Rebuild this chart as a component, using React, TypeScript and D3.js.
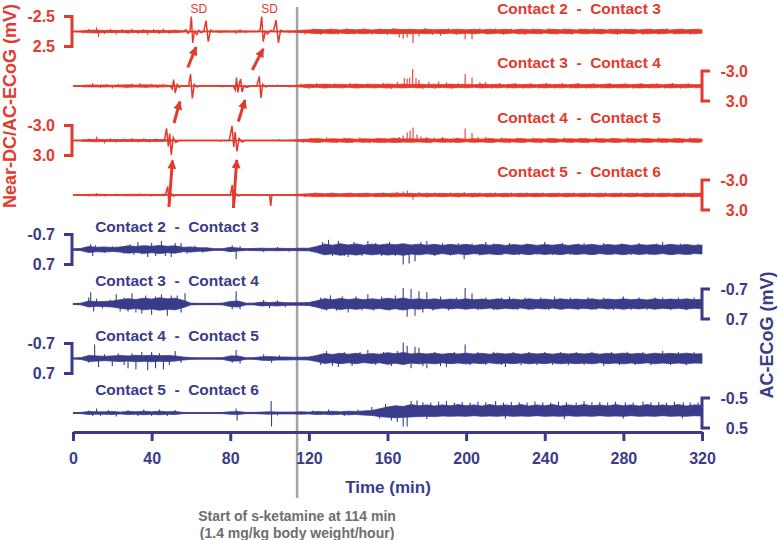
import { useEffect, useRef } from "react";
import * as d3 from "d3";

const RED = "#e23b2e";
const BLUE = "#3a3c8a";
const GREY_LINE = "#a3a3a3";
const GREY_TEXT = "#6e6e6e";
const FONT = "'Liberation Sans', Arial, Helvetica, sans-serif";

const W = 778;
const H = 540;

// time axis (min)
const xTicks = [0, 40, 80, 120, 160, 200, 240, 280, 320];
const ketamineStart = 114;
const sdLabelTimes = [64, 100];

// envelope values are read every 4 min, 0..320
const binMin = 4;

const contactLabels = [
  "Contact 2  -  Contact 3",
  "Contact 3  -  Contact 4",
  "Contact 4  -  Contact 5",
  "Contact 5  -  Contact 6",
];

// calibration bars (mV)
const redBars = [2.5, 3.0, 3.0, 3.0];
const blueBars = [0.7, 0.7, 0.7, 0.5];

// near-DC/AC-ECoG background envelope (mV)
const red1Env = [
  0.05, 0.1, 0.2, 0.25, 0.15, 0.2, 0.15, 0.2, 0.15, 0.2,
  0.15, 0.2, 0.15, 0.2, 0.1, 0.08, 0.08, 0.08, 0.1, 0.12,
  0.1, 0.12, 0.1, 0.08, 0.08, 0.08, 0.08, 0.1, 0.12, 0.2,
  0.26, 0.36, 0.28, 0.38, 0.26, 0.36, 0.28, 0.38, 0.26, 0.36,
  0.32, 0.4, 0.32, 0.38, 0.28, 0.38, 0.28, 0.36, 0.28, 0.38,
  0.28, 0.36, 0.26, 0.38, 0.28, 0.36, 0.26, 0.38, 0.28, 0.36,
  0.26, 0.38, 0.28, 0.36, 0.26, 0.38, 0.28, 0.36, 0.26, 0.38,
  0.28, 0.36, 0.26, 0.38, 0.28, 0.36, 0.26, 0.38, 0.28, 0.36,
  0.28,
];
const red2Env = [
  0.05, 0.1, 0.2, 0.18, 0.2, 0.15, 0.2, 0.25, 0.2, 0.25,
  0.22, 0.2, 0.15, 0.1, 0.08, 0.06, 0.06, 0.06, 0.06, 0.08,
  0.08, 0.1, 0.06, 0.06, 0.08, 0.08, 0.08, 0.1, 0.12, 0.2,
  0.36, 0.26, 0.38, 0.28, 0.36, 0.26, 0.38, 0.28, 0.36, 0.28,
  0.4, 0.32, 0.38, 0.28, 0.38, 0.28, 0.36, 0.28, 0.38, 0.28,
  0.36, 0.26, 0.38, 0.28, 0.36, 0.26, 0.38, 0.28, 0.36, 0.26,
  0.38, 0.28, 0.36, 0.26, 0.38, 0.28, 0.36, 0.26, 0.38, 0.28,
  0.36, 0.26, 0.38, 0.28, 0.36, 0.26, 0.38, 0.28, 0.36, 0.26,
  0.3,
];
const red3Env = [
  0.05, 0.1, 0.2, 0.25, 0.18, 0.2, 0.2, 0.18, 0.22, 0.18,
  0.18, 0.2, 0.14, 0.08, 0.06, 0.06, 0.06, 0.06, 0.06, 0.08,
  0.08, 0.08, 0.06, 0.06, 0.06, 0.08, 0.08, 0.1, 0.12, 0.2,
  0.28, 0.38, 0.26, 0.36, 0.28, 0.38, 0.26, 0.36, 0.28, 0.38,
  0.32, 0.4, 0.32, 0.36, 0.28, 0.38, 0.26, 0.36, 0.28, 0.38,
  0.26, 0.36, 0.28, 0.38, 0.26, 0.36, 0.28, 0.38, 0.26, 0.36,
  0.28, 0.38, 0.26, 0.36, 0.28, 0.38, 0.26, 0.36, 0.28, 0.38,
  0.26, 0.36, 0.28, 0.38, 0.26, 0.36, 0.28, 0.38, 0.26, 0.36,
  0.3,
];
const red4Env = [
  0.03, 0.06, 0.12, 0.15, 0.12, 0.1, 0.12, 0.12, 0.15, 0.12,
  0.12, 0.12, 0.1, 0.06, 0.05, 0.04, 0.04, 0.05, 0.05, 0.05,
  0.05, 0.05, 0.05, 0.05, 0.05, 0.06, 0.08, 0.1, 0.12, 0.18,
  0.24, 0.34, 0.26, 0.34, 0.24, 0.34, 0.26, 0.34, 0.24, 0.34,
  0.28, 0.36, 0.26, 0.34, 0.24, 0.34, 0.26, 0.34, 0.24, 0.34,
  0.26, 0.34, 0.24, 0.34, 0.26, 0.34, 0.24, 0.34, 0.26, 0.34,
  0.24, 0.34, 0.26, 0.34, 0.24, 0.34, 0.26, 0.34, 0.24, 0.34,
  0.26, 0.34, 0.24, 0.34, 0.26, 0.34, 0.24, 0.34, 0.26, 0.34,
  0.28,
];

// spreading depolarizations: [min, mV] (negative = up)
const red1Sd = [
  [56, 0], [57.5, -0.3], [58.5, 0.3], [59.5, 0], [60.2, -2.5], [60.9, 1.9], [61.8, 0],
  [63, 0.5], [64, -0.2], [65, 0.2], [66.5, 0], [67.7, -1.8], [68.8, 1.7], [70, -0.2], [71, 0],
  [94, 0], [95.2, -0.3], [96, -2.5], [96.8, 1.7], [97.8, 0], [99, 0.4], [100.5, -0.2], [102, 0],
  [103.3, -1.9], [104.5, 1.9], [105.6, -0.2], [107, 0],
];
const red2Sd = [
  [49.5, 0], [50.5, 0.6], [51.2, -1.3], [52, 1.4], [53, -0.3], [54, 0.3], [55, 0],
  [58.8, 0], [59.8, -2.4], [60.7, 2.5], [61.7, -0.3], [63, 0.2], [64.5, 0],
  [81.5, 0], [82.6, 0.8], [83.2, -1.7], [83.9, 1.3], [84.6, -0.5], [85.3, -1.4], [86, 1.2], [87, 0],
  [88.5, 0.3], [90, 0], [93.5, 0], [94.8, -1.9], [95.6, 2.4], [96.5, -0.3], [98, 0.2], [99.5, 0],
];
const red3Sd = [
  [46.5, 0], [47.6, -2.4], [48.5, 1.2], [49.2, -1.4], [50, 2.9], [51, -0.6], [52.3, 0.4], [54, 0],
  [79.5, 0], [80.9, -2.9], [81.8, 1.3], [82.5, -1.7], [83.4, 2.2], [84.5, -0.4], [86, 0.3], [87.5, 0],
];
const red4Sd = [
  [47, 0], [48.2, -1.7], [48.9, 2.4], [49.8, -0.4], [51, 0.2], [52.5, 0],
  [80, 0], [81, -2.0], [81.7, 2.6], [82.6, -0.4], [84, 0.2], [85.5, 0],
  [100, 0], [100.6, 2.2], [101.2, 0],
];

// spikes on top of the background: [min, mV]
const red1Spikes = [
  [5, 0.3], [8, -0.4], [12, -0.7], [13, 0.9], [16, 0.4], [19, -0.4], [22, 0.5], [25, -0.4],
  [28, 0.4], [30, -0.5], [33, 0.4], [36, -0.4], [38, 0.6], [41, -0.4], [44, 0.4], [46, -0.5],
  [49, 0.4], [52, -0.3], [75, 0.3], [83, 0.4], [85, -0.4], [88, 0.3], [110, 0.3],
  [118, 0.5], [122, -0.5], [126, 0.55], [131, -0.5], [135, 0.5], [139, -0.55], [143, 0.5],
  [148, -0.5], [152, 0.55], [156, -0.5], [160, 0.6], [163, -0.6], [166, 1.0], [168, 1.2],
  [170, 1.0], [173, 1.9], [176, 0.8], [179, -0.6], [183, 0.6], [187, 0.7], [191, -0.55],
  [195, 0.55], [199.5, 1.3], [203, 1.3], [207, -0.55], [211, 0.55], [215, -0.5], [219, 0.55],
  [223, -0.5], [227, 0.5], [230, 0.6], [234, -0.5], [238, 0.5], [242, -0.55], [246, 0.5],
  [250, -0.5], [254, 0.55], [258, -0.5], [262, 0.5], [265, -0.6], [269, 0.5], [273, -0.5],
  [277, 0.55], [281, -0.5], [285, 0.5], [290, 0.6], [294, -0.5], [298, 0.5], [302, -0.55],
  [306, 0.5], [310, -0.5], [314, 0.55], [318, -0.5],
];
const red2Spikes = [
  [6, 0.3], [10, -0.6], [14, 0.4], [17, -0.4], [20, 0.5], [23, -0.4], [27, 0.45], [30, -0.5],
  [34, -0.6], [37, 0.4], [40, -0.45], [43, 0.4], [46, -0.4], [76, 0.3], [104, -0.3], [110, 0.3],
  [116, -0.5], [120, 0.55], [124, -0.6], [128, 0.5], [133, -0.55], [137, 0.5], [141, -0.6],
  [145, 0.5], [150, -0.55], [154, 0.5], [158, -0.6], [162, 0.55], [165, -0.8], [168.5, -1.6],
  [170, -1.5], [171.3, -1.7], [172.8, -3.4], [174.5, -1.6], [176, -1.2], [178, 0.6],
  [181, -0.8], [184, 0.55], [186, -0.9], [190, -0.7], [193, 0.55], [196, -0.6], [199.5, -2.4],
  [203, -1.7], [207, -0.7], [210, -0.8], [213, 0.55], [217, -0.6], [221, 0.5], [225, -0.6],
  [229, 0.55], [233, -0.55], [237, 0.5], [241, -0.6], [245, 0.5], [249, -0.55], [253, 0.5],
  [257, -0.6], [261, 0.55], [265, -0.55], [269, 0.5], [273, -0.6], [277, 0.5], [281, -0.55],
  [285, 0.55], [289, -0.6], [293, 0.5], [297, -0.55], [301, 0.5], [305, -0.6], [309, 0.55],
  [313, -0.55], [317, 0.5],
];
const red3Spikes = [
  [5, 0.3], [8, -0.4], [12, -0.8], [16, 0.6], [19, -0.4], [22, 0.45], [26, -0.4], [30, -0.5],
  [33, 0.4], [36, -0.45], [39, 0.4], [42, -0.4], [75, 0.3], [105, -0.3],
  [117, 0.5], [121, -0.55], [125, 0.5], [129, -0.6], [134, 0.5], [138, -0.55], [142, 0.5],
  [146, -0.6], [151, 0.55], [155, -0.55], [159, 0.5], [163, -0.6], [166, -0.7], [168, -1.0],
  [170, -1.6], [171.5, -2.0], [173, -2.6], [175, -1.2], [177, -0.8], [180, -0.7], [182, 0.55],
  [184, -0.6], [188, -0.7], [192, 0.5], [195, -0.55], [199.5, -2.4], [203, -1.5], [206, -0.7],
  [210, -0.7], [214, 0.5], [218, -0.6], [222, 0.55], [226, -0.55], [230, 0.5], [234, -0.6],
  [238, 0.55], [242, -0.55], [246, 0.5], [250, -0.6], [254, 0.5], [258, -0.55], [262, 0.55],
  [266, -0.6], [270, 0.5], [274, -0.55], [278, 0.5], [282, -0.6], [286, 0.55], [290, -0.55],
  [294, 0.5], [298, -0.6], [302, 0.5], [306, -0.55], [310, 0.55], [314, -0.6], [318, 0.5],
];
const red4Spikes = [
  [8, 0.3], [12, -0.4], [16, 0.3], [22, -0.3], [28, 0.3], [34, -0.3], [40, 0.3], [46, -0.3],
  [118, 0.45], [123, -0.5], [127, 0.45], [132, -0.5], [136, 0.45], [141, -0.5], [145, 0.45],
  [150, -0.5], [154, 0.45], [158, -0.5], [162, 0.5], [165, -0.6], [168, -0.7], [170, -0.9],
  [173, 0.9], [176, -0.6], [180, 0.5], [184, -0.5], [188, 0.45], [192, -0.5], [196, 0.45],
  [199, -0.6], [203, 0.5], [207, -0.5], [211, 0.45], [215, -0.5], [219, 0.45], [223, -0.5],
  [227, 0.45], [231, -0.5], [235, 0.45], [239, -0.5], [243, 0.45], [247, -0.5], [251, 0.45],
  [255, -0.5], [259, 0.45], [263, -0.5], [267, 0.45], [271, -0.5], [275, 0.45], [279, -0.5],
  [283, 0.45], [287, -0.5], [291, 0.45], [295, -0.5], [299, 0.45], [303, -0.5], [307, 0.45],
  [311, -0.5], [315, 0.45], [319, -0.5],
];

// AC-ECoG background envelope (mV)
const blue1Env = [
  0.03, 0.05, 0.14, 0.1, 0.12, 0.09, 0.12, 0.17, 0.14, 0.18,
  0.15, 0.19, 0.15, 0.17, 0.1, 0.12, 0.08, 0.08, 0.04, 0.04,
  0.1, 0.07, 0.04, 0.05, 0.06, 0.05, 0.06, 0.05, 0.05, 0.06,
  0.06, 0.14, 0.25, 0.2, 0.27, 0.21, 0.26, 0.2, 0.25, 0.21,
  0.26, 0.22, 0.27, 0.21, 0.25, 0.2, 0.24, 0.19, 0.24, 0.2,
  0.24, 0.19, 0.23, 0.2, 0.24, 0.19, 0.23, 0.2, 0.24, 0.19,
  0.23, 0.2, 0.24, 0.19, 0.23, 0.2, 0.24, 0.19, 0.23, 0.2,
  0.24, 0.19, 0.23, 0.2, 0.23, 0.19, 0.24, 0.2, 0.23, 0.19,
  0.21,
];
const blue2Env = [
  0.02, 0.04, 0.14, 0.11, 0.12, 0.14, 0.2, 0.25, 0.21, 0.27,
  0.23, 0.29, 0.24, 0.27, 0.17, 0.04, 0.03, 0.03, 0.03, 0.04,
  0.12, 0.14, 0.04, 0.04, 0.09, 0.07, 0.09, 0.06, 0.06, 0.06,
  0.07, 0.15, 0.25, 0.2, 0.26, 0.21, 0.25, 0.2, 0.24, 0.21,
  0.27, 0.22, 0.28, 0.21, 0.24, 0.2, 0.24, 0.19, 0.23, 0.2,
  0.24, 0.2, 0.23, 0.19, 0.24, 0.2, 0.23, 0.19, 0.24, 0.2,
  0.23, 0.19, 0.24, 0.2, 0.23, 0.2, 0.24, 0.19, 0.23, 0.2,
  0.24, 0.2, 0.23, 0.19, 0.24, 0.2, 0.23, 0.2, 0.24, 0.2,
  0.21,
];
const blue3Env = [
  0.02, 0.04, 0.14, 0.12, 0.1, 0.12, 0.14, 0.12, 0.15, 0.13,
  0.15, 0.13, 0.14, 0.12, 0.07, 0.04, 0.03, 0.03, 0.03, 0.04,
  0.12, 0.12, 0.03, 0.04, 0.08, 0.09, 0.07, 0.07, 0.06, 0.06,
  0.07, 0.14, 0.23, 0.19, 0.24, 0.2, 0.24, 0.19, 0.23, 0.2,
  0.27, 0.22, 0.28, 0.21, 0.25, 0.21, 0.25, 0.2, 0.24, 0.21,
  0.25, 0.21, 0.24, 0.2, 0.25, 0.21, 0.24, 0.2, 0.25, 0.21,
  0.24, 0.2, 0.25, 0.21, 0.24, 0.21, 0.25, 0.2, 0.24, 0.21,
  0.25, 0.21, 0.24, 0.2, 0.25, 0.21, 0.24, 0.21, 0.25, 0.21,
  0.22,
];
// contact 5-6 is skewed upward after ~160 min
const blue4Up = [
  0.01, 0.02, 0.05, 0.04, 0.04, 0.05, 0.03, 0.05, 0.04, 0.06,
  0.04, 0.06, 0.04, 0.05, 0.02, 0.01, 0.01, 0.01, 0.01, 0.02,
  0.04, 0.05, 0.02, 0.02, 0.03, 0.04, 0.03, 0.03, 0.03, 0.04,
  0.03, 0.05, 0.04, 0.06, 0.04, 0.06, 0.05, 0.07, 0.08, 0.14,
  0.2, 0.24, 0.22, 0.28, 0.24, 0.27, 0.23, 0.27, 0.24, 0.28,
  0.24, 0.27, 0.23, 0.28, 0.24, 0.27, 0.24, 0.28, 0.23, 0.27,
  0.24, 0.28, 0.23, 0.27, 0.24, 0.28, 0.24, 0.27, 0.23, 0.28,
  0.24, 0.27, 0.23, 0.28, 0.24, 0.27, 0.24, 0.28, 0.23, 0.27,
  0.26,
];
const blue4Down = [
  0.01, 0.02, 0.05, 0.04, 0.04, 0.05, 0.03, 0.05, 0.04, 0.06,
  0.04, 0.06, 0.04, 0.05, 0.02, 0.01, 0.01, 0.01, 0.01, 0.02,
  0.04, 0.05, 0.02, 0.02, 0.03, 0.04, 0.03, 0.03, 0.03, 0.04,
  0.03, 0.05, 0.04, 0.06, 0.04, 0.06, 0.05, 0.07, 0.08, 0.12,
  0.14, 0.16, 0.14, 0.13, 0.12, 0.11, 0.12, 0.1, 0.11, 0.1,
  0.11, 0.09, 0.11, 0.1, 0.11, 0.09, 0.11, 0.1, 0.11, 0.09,
  0.11, 0.1, 0.11, 0.09, 0.11, 0.1, 0.11, 0.09, 0.11, 0.1,
  0.11, 0.09, 0.11, 0.1, 0.11, 0.09, 0.11, 0.1, 0.11, 0.09,
  0.1,
];

const blue1Spikes = [
  [6, -0.12], [9, -0.25], [10, 0.3], [11.5, -0.2], [16, 0.15], [20, -0.15], [26, 0.2],
  [29, -0.25], [31, 0.25], [33, -0.35], [35, 0.22], [38, 0.35], [40, -0.3], [42, 0.3],
  [45, -0.4], [47, 0.3], [50, 0.35], [52, -0.3], [55, -0.3], [58, 0.2], [62, -0.18],
  [66, 0.15], [81, -0.2], [83, 0.45], [85, -0.15], [97, 0.12], [104, -0.12], [110, 0.1],
  [127, -0.35], [130, -0.45], [132, 0.3], [135, -0.4], [138, 0.3], [140, 0.35], [143, -0.35],
  [147, 0.3], [150, -0.4], [154, -0.3], [157, 0.3], [161, -0.35], [164, 0.3], [168, 0.7],
  [171, 0.65], [174, 0.55], [177, -0.35], [180, -0.4], [184, 0.3], [188, -0.3], [192, 0.28],
  [196, -0.3], [199, 0.45], [203, -0.28], [207, 0.28], [210, -0.35], [214, -0.28], [218, 0.26],
  [222, -0.3], [227, 0.26], [231, -0.28], [236, 0.25], [240, -0.35], [244, 0.26], [249, -0.3],
  [253, 0.25], [257, -0.28], [260, -0.3], [265, 0.26], [270, -0.3], [274, 0.25], [279, -0.28],
  [284, 0.26], [288, -0.3], [293, 0.25], [297, -0.28], [300, -0.35], [305, 0.25], [309, -0.28],
  [314, 0.26], [318, -0.27],
];
const blue2Spikes = [
  [8, -0.3], [9, -0.55], [10.5, 0.35], [12, -0.25], [15, 0.2], [19, -0.2], [22, -0.45],
  [24, 0.35], [26, -0.3], [28, 0.35], [30, -0.5], [32, 0.4], [35, 0.45], [37, -0.4], [40, 0.5],
  [42, -0.35], [45, -0.45], [48, 0.55], [50, -0.4], [53, -0.4], [55, 0.4], [57, -0.5],
  [81, 0.25], [83, -0.6], [85, 0.25], [97, -0.2], [100, 0.2], [104, -0.18], [108, 0.15],
  [126, -0.3], [129, 0.3], [131, -0.4], [134, 0.32], [137, -0.35], [140, 0.4], [144, -0.35],
  [147, 0.3], [150, -0.45], [153, 0.3], [157, -0.35], [161, 0.3], [164, -0.4], [168, -0.75],
  [170, 0.6], [172, -0.7], [174, 0.55], [176, -0.6], [178, 0.4], [180, -0.55], [183, 0.3],
  [187, -0.35], [191, 0.3], [195, -0.3], [199.5, -0.75], [203, -0.5], [206, 0.28], [210, -0.3],
  [214, 0.28], [218, -0.3], [222, -0.35], [226, 0.28], [230, -0.3], [234, 0.27], [238, -0.3],
  [242, 0.28], [245, -0.35], [249, 0.27], [253, -0.3], [257, 0.28], [262, -0.32], [266, 0.27],
  [270, -0.3], [275, 0.28], [280, -0.35], [284, 0.27], [288, -0.3], [292, 0.28], [296, -0.3],
  [300, -0.3], [304, 0.27], [308, -0.3], [312, 0.28], [316, -0.3],
];
const blue3Spikes = [
  [8, 0.2], [11, -0.65], [13, 0.4], [16, -0.2], [20, 0.35], [23, -0.25], [26, 0.3], [28, 0.45],
  [30, -0.25], [32, 0.5], [35, -0.3], [38, 0.55], [40, -0.3], [42, 0.45], [44, -0.25],
  [46, 0.5], [49, 0.3], [52, -0.35], [55, 0.2], [81, 0.2], [83, -0.4], [85, 0.25], [97, -0.2],
  [101, 0.2], [105, -0.15], [126, 0.3], [129, -0.35], [132, 0.35], [135, 0.4], [138, -0.3],
  [142, 0.35], [146, -0.3], [150, -0.4], [154, 0.3], [158, -0.3], [162, 0.35], [165, -0.35],
  [168, -0.75], [170, -0.6], [172, 0.45], [174, -0.55], [176, -0.5], [178, 0.35], [180, 0.45],
  [184, -0.3], [187, 0.35], [190, 0.4], [194, -0.3], [199.5, -0.65], [202, 0.3], [206, -0.3],
  [210, 0.3], [214, -0.32], [218, 0.3], [220, 0.4], [224, -0.3], [228, 0.32], [232, -0.3],
  [236, 0.3], [240, -0.3], [244, 0.3], [248, -0.3], [252, 0.32], [256, -0.3], [260, 0.3],
  [264, -0.32], [270, 0.35], [274, -0.3], [278, 0.3], [282, -0.32], [286, 0.3], [290, -0.3],
  [294, 0.32], [300, -0.35], [304, 0.3], [308, -0.3], [312, 0.32], [316, -0.3],
];
const blue4Spikes = [
  [8, -0.08], [10, 0.1], [12, -0.15], [14, 0.1], [18, -0.1], [22, 0.12], [28, -0.1], [33, 0.1],
  [36, -0.12], [40, 0.1], [44, -0.12], [48, 0.1], [52, -0.1], [83, -0.15], [83.5, 0.25],
  [100.8, -0.4], [101, 0.45], [104, 0.08], [122, -0.08], [130, -0.12], [138, 0.1], [145, -0.12],
  [152, -0.2], [156, 0.18], [159, -0.3], [162, 0.25], [165, 0.3], [168, 0.45], [170, 0.45],
  [172, -0.4], [175, -0.42], [178, -0.36], [180, 0.2], [182, -0.35], [186, -0.38], [190, -0.4],
  [194, -0.35], [198, -0.37], [202, -0.35], [206, -0.38], [210, -0.36], [215, -0.4],
  [219, -0.35], [220, 0.18], [223, -0.37], [227, -0.36], [231, -0.35], [235, -0.38],
  [239, -0.36], [243, -0.35], [247, -0.38], [250, 0.2], [251, -0.36], [256, -0.35], [260, -0.4],
  [264, -0.36], [268, -0.37], [272, -0.35], [276, -0.38], [280, 0.18], [281, -0.36],
  [285, -0.35], [290, -0.38], [294, -0.36], [298, -0.37], [302, -0.35], [306, -0.38],
  [310, 0.18], [310.5, -0.36], [314, -0.35], [318, -0.36],
];

// SD propagation arrows: lower trace, tail [min, mV]; head [min, mV] on the trace above
const arrowFrom = [3, 2, 1, 3, 2, 1];
const arrowTail = [[48.8, 2.4], [51.4, -3.5], [58.4, -3.7], [81.6, 2.6], [84.1, -3.8], [91.2, -3.2]];
const arrowHead = [[50.6, 4.0], [54.4, 3.1], [62.6, 2.6], [83.3, 3.9], [87.5, 2.8], [96.8, 2.9]];

type Trace = {
  label: string;
  color: string;
  bar: number;
  up: number[];
  down: number[];
  events: number[][];
  spikes: number[][];
};

const traces: Trace[] = [
  { label: contactLabels[0], color: RED, bar: redBars[0], up: red1Env, down: red1Env, events: red1Sd, spikes: red1Spikes },
  { label: contactLabels[1], color: RED, bar: redBars[1], up: red2Env, down: red2Env, events: red2Sd, spikes: red2Spikes },
  { label: contactLabels[2], color: RED, bar: redBars[2], up: red3Env, down: red3Env, events: red3Sd, spikes: red3Spikes },
  { label: contactLabels[3], color: RED, bar: redBars[3], up: red4Env, down: red4Env, events: red4Sd, spikes: red4Spikes },
  { label: contactLabels[0], color: BLUE, bar: blueBars[0], up: blue1Env, down: blue1Env, events: [], spikes: blue1Spikes },
  { label: contactLabels[1], color: BLUE, bar: blueBars[1], up: blue2Env, down: blue2Env, events: [], spikes: blue2Spikes },
  { label: contactLabels[2], color: BLUE, bar: blueBars[2], up: blue3Env, down: blue3Env, events: [], spikes: blue3Spikes },
  { label: contactLabels[3], color: BLUE, bar: blueBars[3], up: blue4Up, down: blue4Down, events: [], spikes: blue4Spikes },
];

// layout
const left = 73;
const right = 702;
const firstBase = 31.5;
const rowStep = 54.5;
const barHalf = 15;
const axisY = 432;

const x = d3.scaleLinear().domain([0, 320]).range([left, right]);
const yScales = traces.map((tr, i) => {
  const base = firstBase + i * rowStep;
  return d3.scaleLinear().domain([-tr.bar, tr.bar]).range([base - barHalf, base + barHalf]);
});

const fmt = d3.format(".1f");

export default function App() {
  const axisRef = useRef<SVGGElement>(null);

  useEffect(() => {
    const g = d3.select(axisRef.current);
    g.selectAll("*").remove();
    g.call(d3.axisBottom(x).tickValues(xTicks).tickSize(9).tickSizeOuter(0).tickPadding(12));
    g.attr("font-family", null).attr("font-size", null);
    g.select(".domain").attr("stroke", BLUE).attr("stroke-width", 3);
    g.selectAll(".tick line").attr("stroke", BLUE).attr("stroke-width", 3);
    g.selectAll(".tick text")
      .attr("fill", BLUE)
      .style("font-family", FONT)
      .style("font-size", "16px")
      .style("font-weight", "bold");
  }, []);

  return (
    <div style={{ position: "absolute", left: 0, top: 0 }}>
      <svg width={W} height={H} style={{ display: "block", background: "#fff" }}>
        <defs>
          <marker id="arrowHead" viewBox="0 0 10 10" refX="9" refY="5" markerWidth="10" markerHeight="9"
            markerUnits="userSpaceOnUse" orient="auto">
            <path d="M0,0 L10,5 L0,10 z" fill={RED} />
          </marker>
        </defs>

        {/* ketamine start */}
        <line x1={x(ketamineStart)} x2={x(ketamineStart)} y1={7} y2={498} stroke={GREY_LINE} strokeWidth={2.5} />

        {traces.map((tr, i) => {
          const y = yScales[i];
          const base = y(0);
          const area = d3
            .area<number>()
            .x((_, k) => x(k * binMin))
            .y0((_, k) => y(-tr.up[k]))
            .y1((_, k) => y(tr.down[k]));
          const line = d3
            .line<number[]>()
            .x((d) => x(d[0]))
            .y((d) => y(d[1]));
          const pts = [[0, 0], ...tr.events, [320, 0]];
          const onLeft = i % 2 === 0;
          const top = y(-tr.bar);
          const bot = y(tr.bar);
          const bx = onLeft ? left - 1 : right;
          const tick = onLeft ? -8 : 8;
          return (
            <g key={i}>
              <path d={area(tr.up) || ""} fill={tr.color} stroke={tr.color} strokeWidth={0.8} />
              <path d={line(pts) || ""} fill="none" stroke={tr.color} strokeWidth={1.5} />
              {tr.spikes.map((s, k) => (
                <line key={k} x1={x(s[0])} x2={x(s[0])} y1={base} y2={y(s[1])} stroke={tr.color} strokeWidth={1.1} />
              ))}
              <path
                d={`M${bx + tick},${top}H${bx}V${bot}H${bx + tick}`}
                fill="none"
                stroke={tr.color}
                strokeWidth={3}
              />
              <g fill={tr.color} fontFamily={FONT} fontWeight="bold" fontSize={16} textAnchor="end">
                <text x={onLeft ? 55 : 748} y={top} dy="0.36em">{"-" + fmt(tr.bar)}</text>
                <text x={onLeft ? 55 : 748} y={bot} dy="0.36em">{fmt(tr.bar)}</text>
              </g>
              <text
                x={tr.color === RED ? 579 : 177}
                y={base - 18}
                textAnchor="middle"
                fill={tr.color}
                fontFamily={FONT}
                fontWeight="bold"
                fontSize={15.5}
                style={{ whiteSpace: "pre" }}
              >
                {tr.label}
              </text>
            </g>
          );
        })}

        {sdLabelTimes.map((t, k) => (
          <text key={k} x={x(t)} y={13} textAnchor="middle" fill={RED} fontFamily={FONT} fontSize={12}>
            SD
          </text>
        ))}

        {arrowFrom.map((from, k) => (
          <line
            key={k}
            x1={x(arrowTail[k][0])}
            y1={yScales[from](arrowTail[k][1])}
            x2={x(arrowHead[k][0])}
            y2={yScales[from - 1](arrowHead[k][1])}
            stroke={RED}
            strokeWidth={3}
            markerEnd="url(#arrowHead)"
          />
        ))}

        <g ref={axisRef} transform={`translate(0,${axisY})`} />

        <text x={388} y={493} textAnchor="middle" fill={BLUE} fontFamily={FONT} fontWeight="bold" fontSize={17}>
          Time (min)
        </text>

        <g fill={GREY_TEXT} fontFamily={FONT} fontWeight="bold" fontSize={14} textAnchor="middle">
          <text x={x(ketamineStart)} y={521}>Start of s-ketamine at {ketamineStart} min</text>
          <text x={x(ketamineStart)} y={538}>(1.4 mg/kg body weight/hour)</text>
        </g>

        <text
          transform="translate(16,106) rotate(-90)"
          textAnchor="middle"
          fill={RED}
          fontFamily={FONT}
          fontWeight="bold"
          fontSize={18}
        >
          Near-DC/AC-ECoG (mV)
        </text>
        <text
          transform="translate(773,335) rotate(-90)"
          textAnchor="middle"
          fill={BLUE}
          fontFamily={FONT}
          fontWeight="bold"
          fontSize={18}
        >
          AC-ECoG (mV)
        </text>
      </svg>
    </div>
  );
}
